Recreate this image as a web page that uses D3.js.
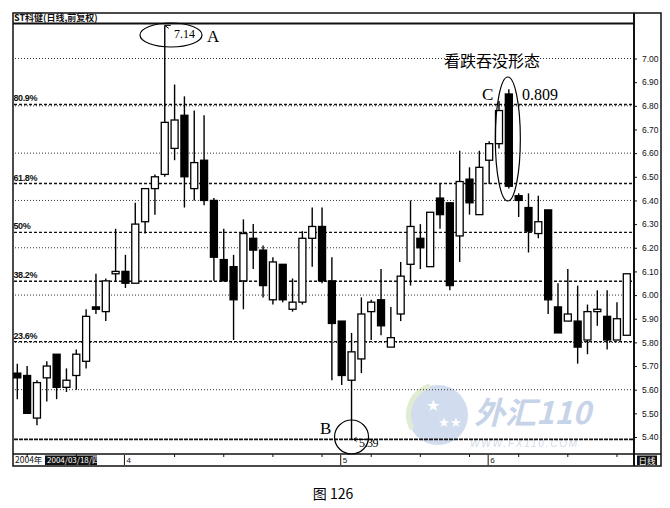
<!DOCTYPE html>
<html><head><meta charset="utf-8">
<script src="https://cdn.jsdelivr.net/npm/d3@7"></script>
<style>body{margin:0;background:#fff}svg{display:block}</style>
</head><body>
<svg id="c" width="670" height="508"></svg>
<script>
// ---- data ----
const opens  = [5.67,5.66,5.48,5.65,5.75,5.61,5.66,5.72,5.95,5.93,6.09,6.10,6.05,6.31,6.45,6.51,6.62,6.76,6.45,6.57,6.40,6.15,6.12,6.06,6.24,6.19,5.98,6.13,5.94,5.97,6.24,6.29,6.06,5.89,5.64,5.73,5.93,5.98,5.78,5.92,6.13,6.24,6.12,6.41,6.39,6.25,6.49,6.34,6.57,6.64,6.85,6.42,6.37,6.26,6.36,5.95,5.89,5.89,5.81,5.93,5.91,5.81,5.83];
const highs  = [5.71,5.70,5.64,5.72,5.75,5.69,5.77,5.94,6.09,6.07,6.28,6.17,6.39,6.45,6.51,7.14,6.89,6.84,6.78,6.76,6.41,6.28,6.17,6.32,6.30,6.21,6.16,6.13,6.07,6.27,6.37,6.37,6.16,5.89,5.84,5.99,5.98,6.11,5.95,6.14,6.40,6.30,6.35,6.47,6.39,6.61,6.54,6.61,6.65,6.82,6.87,6.43,6.43,6.42,6.36,6.05,6.11,6.04,5.96,6.02,6.02,5.97,6.09];
const lows   = [5.56,5.50,5.45,5.55,5.56,5.59,5.60,5.69,5.92,5.89,6.06,6.03,6.05,6.26,6.34,6.50,6.57,6.37,6.40,6.38,6.06,6.06,5.81,5.94,6.11,5.99,5.96,5.97,5.93,5.96,6.12,6.05,5.64,5.62,5.39,5.67,5.81,5.83,5.78,5.89,6.04,6.11,6.12,6.28,6.02,6.14,6.34,6.34,6.47,6.62,6.45,6.33,6.18,6.24,5.92,5.84,5.89,5.71,5.75,5.87,5.77,5.81,5.83];
const closes = [5.65,5.50,5.63,5.70,5.61,5.64,5.75,5.91,5.94,6.06,6.10,6.05,6.30,6.45,6.50,6.73,6.74,6.50,6.56,6.40,6.16,6.06,5.98,6.26,6.19,6.04,6.14,5.98,5.97,6.24,6.29,6.06,5.88,5.66,5.76,5.92,5.97,5.87,5.82,6.08,6.29,6.20,6.35,6.34,6.04,6.48,6.39,6.54,6.64,6.78,6.46,6.40,6.27,6.31,5.98,5.84,5.92,5.78,5.93,5.94,5.81,5.90,6.09];
const monthLabels = ["4","5","6"];
const monthStartIndex = [11,33,48];
const yTickValues = [5.4,5.5,5.6,5.7,5.8,5.9,6.0,6.1,6.2,6.3,6.4,6.5,6.6,6.7,6.8,6.9,7.0];
const gridValues = [5.6,5.8,6.0,6.2,6.4,6.6,6.8,7.0];
const fibRatios = [0.236,0.382,0.5,0.618,0.809];
const fibLabels = ["23.6%","38.2%","50%","61.8%","80.9%"];
const pointA = 7.14, pointB = 5.39, pointC = 0.809;
const titleText = "ST科健(日线,前复权)";

// ---- drawing ----
const svg = d3.select("#c");
const n = opens.length;
const x = d3.scalePoint().domain(d3.range(n)).range([17.3, 626.8]);
const y = d3.scaleLinear().domain([5.40, 7.00]).range([437, 58.5]);
const bw = 7;

// watermark
const wm = svg.append("g").attr("opacity", 0.75);
wm.append("circle").attr("cx", 438).attr("cy", 415).attr("r", 30).attr("fill", "#c3d1ea");
wm.append("path").attr("d", "M412,429 A30,30 0 0,1 430,386").attr("fill", "none").attr("stroke", "#d8e6c4").attr("stroke-width", 5);
wm.append("text").attr("x", 426).attr("y", 411).attr("font-size", 16).attr("fill", "#fff").text("★");
wm.append("text").attr("x", 438).attr("y", 427).attr("font-size", 13).attr("fill", "#fff").text("★★");
wm.append("text").attr("x", 474).attr("y", 424).attr("font-family", "Noto Sans CJK SC").attr("font-weight", "bold")
  .attr("font-style", "italic").attr("font-size", 31).attr("fill", "#b3c5e2").text("外汇110");
wm.append("text").attr("x", 470).attr("y", 447).attr("font-family", "Liberation Sans").attr("font-style", "italic")
  .attr("font-size", 10).attr("letter-spacing", 1.8).attr("fill", "#c3cfe2").text("WWW.FX110.COM");

// frame
svg.append("rect").attr("x", 13).attr("y", 13).attr("width", 648).attr("height", 453)
  .attr("fill", "none").attr("stroke", "#111").attr("stroke-width", 1.5);
svg.append("line").attr("x1", 13).attr("x2", 634).attr("y1", 23.5).attr("y2", 23.5).attr("stroke", "#111").attr("stroke-width", 2);
svg.append("line").attr("x1", 634).attr("x2", 634).attr("y1", 13).attr("y2", 466).attr("stroke", "#111").attr("stroke-width", 2);
svg.append("line").attr("x1", 13).attr("x2", 661).attr("y1", 454).attr("y2", 454).attr("stroke", "#111").attr("stroke-width", 1.5);

svg.append("text").attr("x", 14).attr("y", 20.5).attr("font-family", "Noto Sans CJK SC").attr("font-weight", "bold")
  .attr("font-size", 9).attr("fill", "#111").text(titleText);

// light grid
svg.append("g").selectAll("line").data(gridValues).join("line")
  .attr("x1", 15).attr("x2", 633).attr("y1", d => y(d)).attr("y2", d => y(d))
  .attr("stroke", "#333").attr("stroke-width", 1).attr("stroke-dasharray", "1,2");

// fib lines
const fibVals = fibRatios.map(r => pointB + r * (pointA - pointB));
svg.append("g").selectAll("line").data(fibVals).join("line")
  .attr("x1", 14).attr("x2", 633).attr("y1", d => y(d)).attr("y2", d => y(d))
  .attr("stroke", "#111").attr("stroke-width", 1.4).attr("stroke-dasharray", "3,2");
svg.append("line").attr("x1", 14).attr("x2", 633).attr("y1", y(pointB)).attr("y2", y(pointB))
  .attr("stroke", "#111").attr("stroke-width", 1.6).attr("stroke-dasharray", "4,1");
svg.append("g").selectAll("text").data(fibVals).join("text")
  .attr("x", 13.5).attr("y", d => y(d) - 3).attr("font-family", "Liberation Sans").attr("font-weight", "bold")
  .attr("font-size", 9).attr("fill", "#111").attr("letter-spacing", -0.4).text((d, i) => fibLabels[i]);

// right axis
const axis = d3.axisRight(y).tickValues(yTickValues).tickFormat(d3.format(".2f")).tickSize(3).tickPadding(5);
const ag = svg.append("g").attr("transform", "translate(634,0)").call(axis);
ag.select(".domain").remove();
ag.selectAll("text").attr("font-family", "Liberation Sans").attr("font-size", 8.5).attr("fill", "#111");
ag.selectAll("line").attr("stroke", "#111");

// candles
const idx = d3.range(n);
const cg = svg.append("g");
cg.selectAll("line.w").data(idx).join("line").attr("class", "w")
  .attr("x1", i => x(i)).attr("x2", i => x(i))
  .attr("y1", i => y(highs[i])).attr("y2", i => y(lows[i]))
  .attr("stroke", "#000").attr("stroke-width", 1.4);
cg.selectAll("rect").data(idx).join("rect")
  .attr("x", i => x(i) - bw / 2)
  .attr("y", i => y(Math.max(opens[i], closes[i])))
  .attr("width", bw)
  .attr("height", i => Math.max(1.5, Math.abs(y(opens[i]) - y(closes[i]))))
  .attr("fill", i => closes[i] < opens[i] ? "#000" : "#fff")
  .attr("stroke", "#000").attr("stroke-width", 1.3);

// date bar
svg.append("text").attr("x", 15).attr("y", 463).attr("font-family", "Noto Sans CJK SC").attr("font-size", 8.5).attr("fill", "#111").text("2004年");
svg.append("rect").attr("x", 45).attr("y", 455.5).attr("width", 52).attr("height", 9.5).attr("fill", "#111");
svg.append("text").attr("x", 47).attr("y", 463).attr("font-family", "Noto Sans CJK SC").attr("font-size", 8).attr("fill", "#fff").text("2004/03/18/四");
const mg = svg.append("g");
mg.selectAll("line").data(monthStartIndex).join("line")
  .attr("x1", i => x(i) - 1).attr("x2", i => x(i) - 1).attr("y1", 455).attr("y2", 465)
  .attr("stroke", "#111").attr("stroke-width", 1);
mg.selectAll("text").data(monthStartIndex).join("text")
  .attr("x", i => x(i) + 1).attr("y", 463).attr("font-family", "Liberation Sans").attr("font-size", 8).attr("fill", "#111")
  .text((d, k) => monthLabels[k]);
svg.append("g").selectAll("line").data(idx.filter(i => i % 5 === 1 && !monthStartIndex.includes(i))).join("line")
  .attr("x1", i => x(i)).attr("x2", i => x(i)).attr("y1", 454).attr("y2", 457).attr("stroke", "#111");
svg.append("rect").attr("x", 637).attr("y", 455.5).attr("width", 20).attr("height", 9.5).attr("fill", "#111");
svg.append("text").attr("x", 638.5).attr("y", 463.5).attr("font-family", "Noto Sans CJK SC").attr("font-size", 8.5).attr("fill", "#fff").text("日线");

// annotations
const serif = "Liberation Serif";
const ia = highs.indexOf(pointA), ib = lows.indexOf(pointB), ic = 50;
// A
svg.append("ellipse").attr("cx", 171).attr("cy", 35).attr("rx", 31).attr("ry", 12).attr("fill", "none").attr("stroke", "#000").attr("stroke-width", 1.2);
svg.append("path").attr("d", `M${x(ia)},${y(pointA)} L${x(ia) + 6},${y(pointA)} M${x(ia)},${y(pointA)} l4,3`).attr("stroke", "#000").attr("fill", "none");
svg.append("text").attr("x", 174).attr("y", 38).attr("font-family", serif).attr("font-size", 12).attr("fill", "#000").text(pointA.toFixed(2));
svg.append("text").attr("x", 207).attr("y", 42).attr("font-family", serif).attr("font-size", 17).attr("fill", "#000").text("A");
// B
svg.append("circle").attr("cx", x(ib)).attr("cy", 437).attr("r", 17).attr("fill", "none").attr("stroke", "#000").attr("stroke-width", 1.2);
svg.append("path").attr("d", `M${x(ib) + 2},${y(pointB)} l8,0 M${x(ib) + 2},${y(pointB)} l3,-2 M${x(ib) + 2},${y(pointB)} l3,2`).attr("stroke", "#000").attr("fill", "none");
svg.append("text").attr("x", 359).attr("y", 447).attr("font-family", serif).attr("font-size", 12).attr("letter-spacing", -0.5).attr("fill", "#000").text(pointB.toFixed(2));
svg.append("text").attr("x", 320).attr("y", 434).attr("font-family", serif).attr("font-size", 17).attr("fill", "#000").text("B");
// C
svg.append("ellipse").attr("cx", x(ic) - 1).attr("cy", 139).attr("rx", 12.5).attr("ry", 62).attr("fill", "none").attr("stroke", "#000").attr("stroke-width", 1.2);
svg.append("text").attr("x", 482).attr("y", 100).attr("font-family", serif).attr("font-size", 17).attr("fill", "#000").text("C");
svg.append("text").attr("x", 522).attr("y", 100).attr("font-family", serif).attr("font-size", 16).attr("fill", "#000").text(pointC.toFixed(3));
svg.append("text").attr("x", 444).attr("y", 67).attr("font-family", "Noto Sans CJK SC").attr("font-size", 16).attr("fill", "#000").text("看跌吞没形态");

// caption
svg.append("text").attr("x", 333).attr("y", 499).attr("text-anchor", "middle").attr("font-family", "Noto Sans CJK SC").attr("font-size", 14).attr("fill", "#000").text("图 126");
</script>
</body></html>
